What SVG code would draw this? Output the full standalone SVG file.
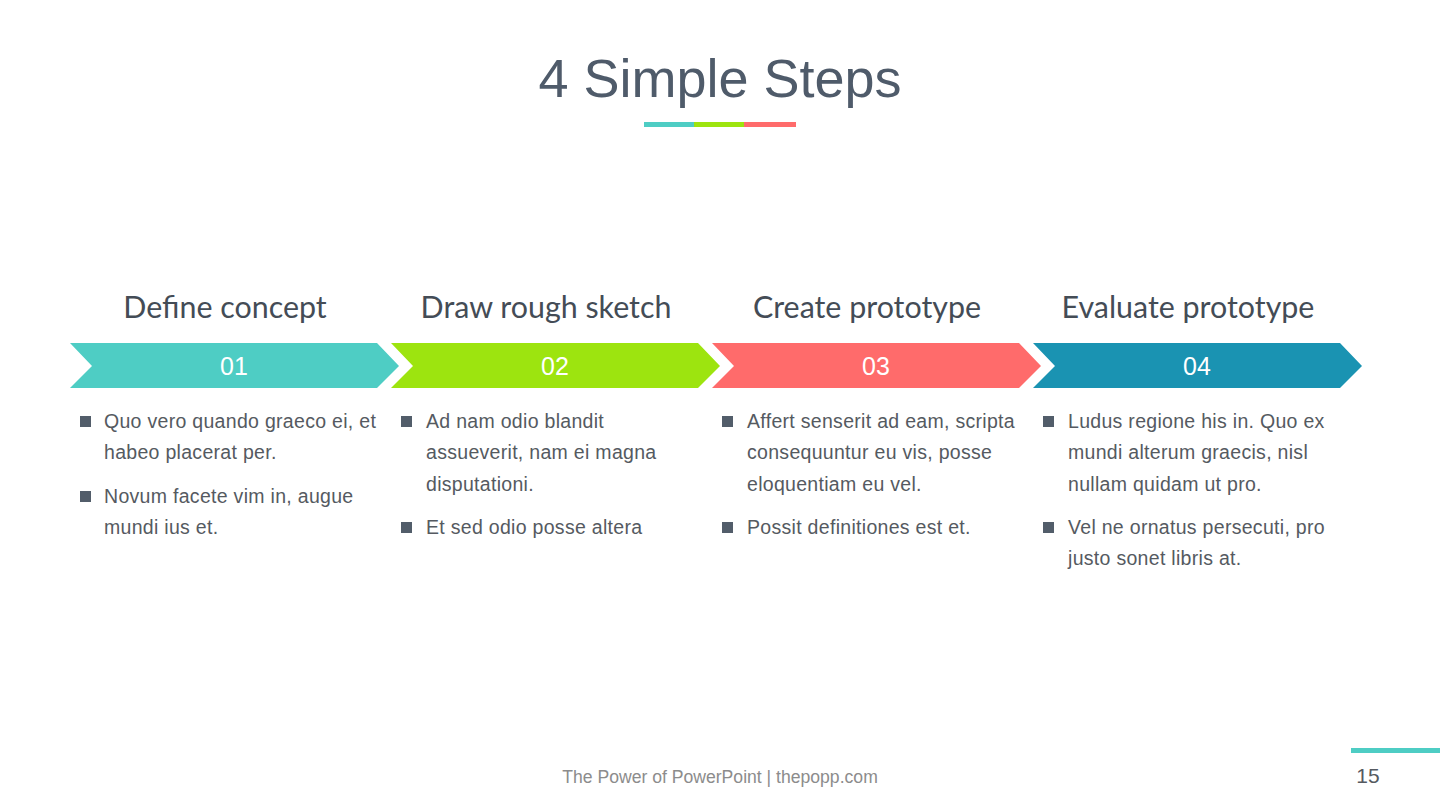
<svg xmlns="http://www.w3.org/2000/svg" width="1440" height="810" viewBox="0 0 1440 810">
<style>
.title{font-family:"Liberation Sans",Arial,sans-serif;font-size:54px;fill:#4f5b6a;text-anchor:middle}
.head{font-family:Lato,"Open Sans",sans-serif;font-size:30.4px;fill:#444c56;text-anchor:middle}
.num{font-family:"Liberation Sans",Arial,sans-serif;font-size:25px;fill:#ffffff;text-anchor:middle}
.body{font-family:"Liberation Sans",Arial,sans-serif;font-size:19.5px;letter-spacing:0.3px;fill:#555a61}
.bul{fill:#525d6a}
.foot{font-family:"Liberation Sans",Arial,sans-serif;font-size:17.6px;fill:#8c8c8c;text-anchor:middle}
.page{font-family:"Liberation Sans",Arial,sans-serif;font-size:21px;fill:#555a61;text-anchor:middle}
</style>
<rect width="1440" height="810" fill="#ffffff"/>
<g id="title">
<text class="title" x="720" y="97">4 Simple Steps</text>
<rect x="644" y="122" width="50" height="5" fill="#4ecdc4"/>
<rect x="694" y="122" width="50" height="5" fill="#9de40f"/>
<rect x="744" y="122" width="52" height="5" fill="#ff6b6b"/>
</g>
<g id="connectors"></g>
<g id="step1">
<text class="head" x="225" y="318">Define concept</text>
<polygon points="70,343 377,343 399,366 377,388 70,388 92,366" fill="#4ecdc4"/>
<text class="num" x="234" y="375">01</text>
<rect class="bul" x="80" y="416" width="11" height="11"/>
<text class="body" x="104" y="428">Quo vero quando graeco ei, et</text>
<text class="body" x="104" y="459">habeo placerat per.</text>
<rect class="bul" x="80" y="491" width="11" height="11"/>
<text class="body" x="104" y="503">Novum facete vim in, augue</text>
<text class="body" x="104" y="534">mundi ius et.</text>
</g>
<g id="step2">
<text class="head" x="546" y="318">Draw rough sketch</text>
<polygon points="391,343 698,343 720,366 698,388 391,388 413,366" fill="#9de40f"/>
<text class="num" x="555" y="375">02</text>
<rect class="bul" x="401" y="416" width="11" height="11"/>
<text class="body" x="426" y="428">Ad nam odio blandit</text>
<text class="body" x="426" y="459">assueverit, nam ei magna</text>
<text class="body" x="426" y="491">disputationi.</text>
<rect class="bul" x="401" y="522" width="11" height="11"/>
<text class="body" x="426" y="534">Et sed odio posse altera</text>
</g>
<g id="step3">
<text class="head" x="867" y="318">Create prototype</text>
<polygon points="712,343 1019,343 1041,366 1019,388 712,388 734,366" fill="#ff6b6b"/>
<text class="num" x="876" y="375">03</text>
<rect class="bul" x="722" y="416" width="11" height="11"/>
<text class="body" x="747" y="428">Affert senserit ad eam, scripta</text>
<text class="body" x="747" y="459">consequuntur eu vis, posse</text>
<text class="body" x="747" y="491">eloquentiam eu vel.</text>
<rect class="bul" x="722" y="522" width="11" height="11"/>
<text class="body" x="747" y="534">Possit definitiones est et.</text>
</g>
<g id="step4">
<text class="head" x="1188" y="318">Evaluate prototype</text>
<polygon points="1033,343 1340,343 1362,366 1340,388 1033,388 1055,366" fill="#1a93b2"/>
<text class="num" x="1197" y="375">04</text>
<rect class="bul" x="1043" y="416" width="11" height="11"/>
<text class="body" x="1068" y="428">Ludus regione his in. Quo ex</text>
<text class="body" x="1068" y="459">mundi alterum graecis, nisl</text>
<text class="body" x="1068" y="491">nullam quidam ut pro.</text>
<rect class="bul" x="1043" y="522" width="11" height="11"/>
<text class="body" x="1068" y="534">Vel ne ornatus persecuti, pro</text>
<text class="body" x="1068" y="565">justo sonet libris at.</text>
</g>
<g id="footer">
<text class="foot" x="720" y="783">The Power of PowerPoint | thepopp.com</text>
<rect x="1351" y="748" width="89" height="5" fill="#4ecdc4"/>
<text class="page" x="1368" y="783">15</text>
</g>
</svg>
